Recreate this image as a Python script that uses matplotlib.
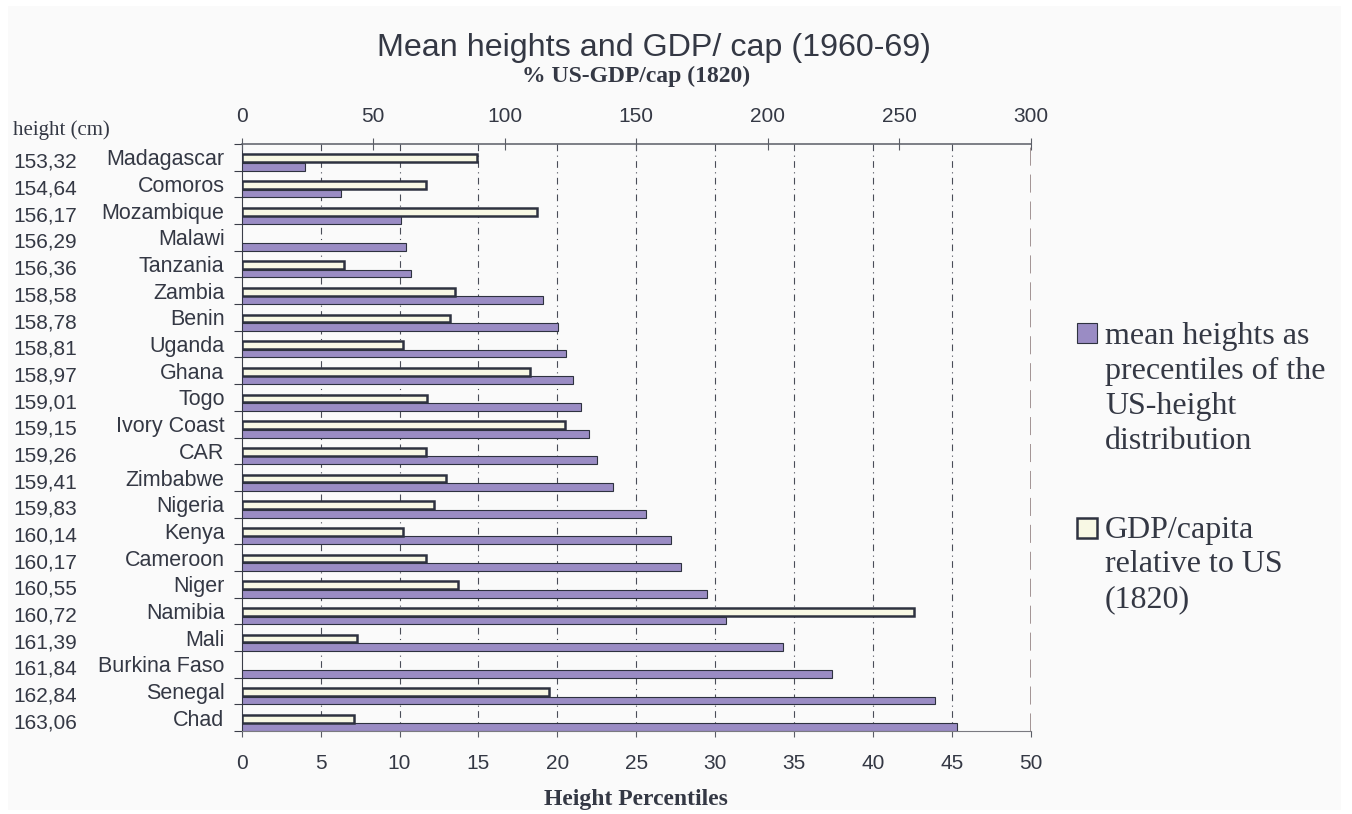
import numpy as np
import matplotlib
matplotlib.use('Agg')
import matplotlib.pyplot as plt
from matplotlib.patches import Rectangle
from matplotlib.transforms import blended_transform_factory

# countries ordered by mean height (shortest first)
countries = ['Madagascar', 'Comoros', 'Mozambique', 'Malawi', 'Tanzania', 'Zambia',
             'Benin', 'Uganda', 'Ghana', 'Togo', 'Ivory Coast', 'CAR', 'Zimbabwe',
             'Nigeria', 'Kenya', 'Cameroon', 'Niger', 'Namibia', 'Mali',
             'Burkina Faso', 'Senegal', 'Chad']
height_cm = ['153,32', '154,64', '156,17', '156,29', '156,36', '158,58', '158,78',
             '158,81', '158,97', '159,01', '159,15', '159,26', '159,41', '159,83',
             '160,14', '160,17', '160,55', '160,72', '161,39', '161,84', '162,84',
             '163,06']
# mean height as percentile of the US height distribution
height_pct = [4.0, 6.3, 10.1, 10.4, 10.7, 19.1, 20.05, 20.55, 21.0, 21.5, 22.0,
              22.5, 23.5, 25.6, 27.2, 27.8, 29.5, 30.7, 34.3, 37.4, 43.9, 45.3]
# GDP per capita in % of US GDP/cap in 1820 (no value for Malawi, Burkina Faso)
gdp_rel = [89.5, 70.2, 112.3, np.nan, 38.7, 80.9, 79.2, 61.4, 109.4, 70.4, 122.7,
           70.2, 77.5, 73.1, 61.3, 70.2, 82.1, 255.6, 43.9, np.nan, 116.7, 42.7]

height_ticks = list(range(0, 51, 5))
gdp_ticks = list(range(0, 301, 50))

PURPLE = '#9a8cc4'
CREAM = '#f8f8e4'
EDGE = '#2e3240'
TXT = '#343844'

plt.rcParams['font.family'] = ['Liberation Sans', 'DejaVu Sans']
plt.rcParams['text.color'] = TXT

W, H = 1352, 814


def fx(px):
    return px / W


def fy(py):
    return 1 - py / H


fig = plt.figure(figsize=(W / 100, H / 100), dpi=100, facecolor='white')
fig.patches.append(Rectangle((fx(8), fy(810)), fx(1341) - fx(8), fy(6) - fy(810),
                             transform=fig.transFigure, facecolor='#fafafa',
                             edgecolor='none', zorder=-10))

ax = fig.add_axes([fx(241.7), fy(731), fx(1031) - fx(241.7), fy(144) - fy(731)])
ax.patch.set_visible(False)

n = len(countries)
y = np.arange(n)

# gridlines behind the bars
ax.vlines(height_ticks[1:-1], -0.5, n - 0.5, colors='#4a4d58', linewidth=0.8,
          linestyles=[(0, (6, 4, 1, 4))], zorder=1)
ax.axvline(50, color='#9a8a8a', linewidth=2.0, dashes=(6.5, 3.2), zorder=1)

ax.barh(y + 0.355, height_pct, height=0.29, color=PURPLE, edgecolor=EDGE,
        linewidth=0.8, zorder=3)
ax.set_xlim(0, 50)
ax.set_ylim(n - 0.5, -0.5)

top = ax.twiny()
top.barh(y + 0.037, gdp_rel, height=0.29, color=CREAM, edgecolor=EDGE,
         linewidth=1.8, zorder=3)
top.set_xlim(0, 300)

# spines
for s in ['top', 'right']:
    ax.spines[s].set_visible(False)
ax.spines['left'].set_color('#3a3d48')
ax.spines['bottom'].set_color('#7a7a80')
for s in ['bottom', 'left', 'right']:
    top.spines[s].set_visible(False)
top.spines['top'].set_color('#5a5d66')
top.spines['top'].set_linewidth(1.1)

# bottom axis: height percentiles
ax.set_xticks(height_ticks)
ax.tick_params(axis='x', direction='out', length=4.5, pad=12, labelsize=15,
               color='#5a5d66', labelcolor=TXT)

# left axis: ticks at category boundaries, names at centres
ax.set_yticks(np.arange(-0.5, n, 1.0))
ax.set_yticklabels([])
ax.tick_params(axis='y', which='major', direction='out', length=5.5, color='#3a3d48')
ax.set_yticks(y, minor=True)
ax.set_yticklabels(countries, minor=True)
ax.tick_params(axis='y', which='minor', length=0, pad=12.3, labelsize=15.5,
               labelcolor=TXT)

# top axis: GDP/cap
top.set_xticks(gdp_ticks)
top.tick_params(axis='x', direction='inout', length=9, pad=8.5, labelsize=15,
                color='#5a5d66', labelcolor=TXT)

# height in cm next to each country
trans = blended_transform_factory(fig.transFigure, ax.transData)
for i, h in enumerate(height_cm):
    ax.text(fx(13), i + 0.19, h, transform=trans, ha='left', va='center', fontsize=15)

fig.text(fx(13), fy(130), 'height (cm)', family='Liberation Serif', fontsize=15,
         ha='left', va='center')
fig.text(fx(654), fy(48), 'Mean heights and GDP/ cap (1960-69)', fontsize=23.2,
         ha='center', va='center')
fig.text(fx(636), fy(76), '% US-GDP/cap (1820)', family='Liberation Serif',
         weight='bold', fontsize=17, ha='center', va='center')
fig.text(fx(636), fy(800), 'Height Percentiles', family='Liberation Serif',
         weight='bold', fontsize=17, ha='center', va='center')

# legend
fig.patches.append(Rectangle((fx(1077), fy(343)), 20 / W, 20 / H,
                             transform=fig.transFigure, facecolor=PURPLE,
                             edgecolor=EDGE, linewidth=0.8))
fig.text(fx(1105), fy(389), 'mean heights as\nprecentiles of the\nUS-height\ndistribution',
         family='Liberation Serif', fontsize=23, ha='left', va='center',
         linespacing=1.26)
fig.patches.append(Rectangle((fx(1077), fy(538)), 20 / W, 20 / H,
                             transform=fig.transFigure, facecolor=CREAM,
                             edgecolor=EDGE, linewidth=1.8))
fig.text(fx(1105), fy(565), 'GDP/capita\nrelative to US\n(1820)',
         family='Liberation Serif', fontsize=23, ha='left', va='center',
         linespacing=1.26)

fig.savefig('out.png', dpi=100, facecolor='white')
